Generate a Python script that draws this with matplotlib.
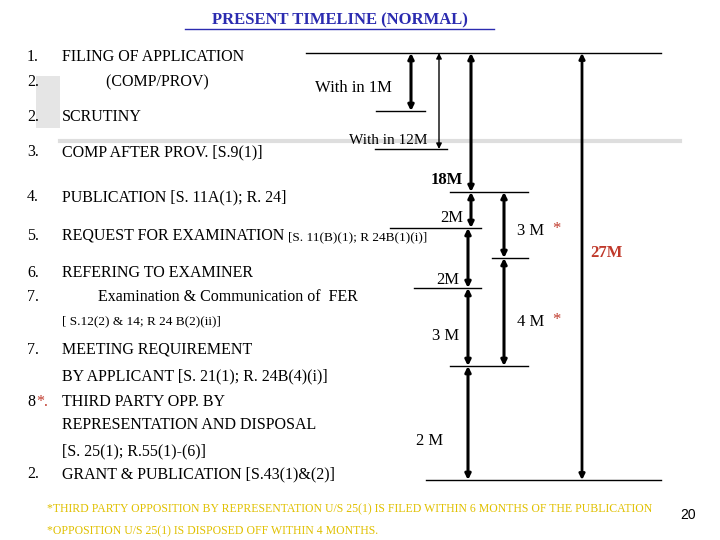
import matplotlib
matplotlib.use("Agg")
import matplotlib.pyplot as plt

# ---------------------------------------------------------------- data (pixel coords of slide)
# arrows: (x, y_top, y_bottom)
arrows = [(411, 53, 111), (439, 53, 149), (471, 53, 192), (471, 192, 228),
          (504, 192, 258), (468, 228, 288), (468, 288, 366), (504, 258, 366),
          (468, 366, 480), (582, 53, 480)]
arrow_lw = [2.2, 1.0, 2.2, 2.2, 2.2, 2.2, 2.2, 2.2, 2.2, 2.0]
# horizontal ticks: (x0, x1, y)
hlines = [(306, 661, 53), (376, 425, 111), (375, 447, 149), (450, 528, 192),
          (390, 481, 228), (492, 528, 258), (414, 481, 288), (450, 528, 366),
          (426, 661, 480)]

items = [("1.", "FILING OF APPLICATION", 57),
         ("2.", "           (COMP/PROV)", 82),
         ("2.", "SCRUTINY", 117),
         ("3.", "COMP AFTER PROV. [S.9(1)]", 152),
         ("4.", "PUBLICATION [S. 11A(1); R. 24]", 197),
         ("6.", "REFERING TO EXAMINER", 273),
         ("7.", "MEETING REQUIREMENT", 350),
         ("2.", "GRANT & PUBLICATION [S.43(1)&(2)]", 474)]

fig = plt.figure(figsize=(7.2, 5.4), dpi=100)
ax = fig.add_axes([0, 0, 1, 1])
ax.set_xlim(0, 720); ax.set_ylim(540, 0); ax.axis("off")
serif = "Liberation Serif"

# slide ornaments
ax.add_patch(plt.Rectangle((36, 76), 24, 52, color="#cccccc", alpha=0.5, lw=0))
ax.plot([60, 680], [141, 141], color="#c8c8c8", lw=3, alpha=0.6)

ax.text(340, 20, "PRESENT TIMELINE (NORMAL)", ha="center", va="center",
        fontsize=12, family=serif, color="#2b2bb0", fontweight="bold")
ax.plot([185, 494], [29, 29], color="#2b2bb0", lw=1)

for x0, x1, y in hlines:
    ax.plot([x0, x1], [y, y], color="black", lw=1)
for (x, y0, y1), lw in zip(arrows, arrow_lw):
    ax.annotate("", xy=(x, y1), xytext=(x, y0),
                arrowprops=dict(arrowstyle="<|-|>", lw=lw, color="black",
                                mutation_scale=8, shrinkA=0, shrinkB=0))

fs = 11.5
for num, txt, y in items:
    ax.text(27, y, num, fontsize=fs, family=serif, va="center")
    ax.text(62, y, txt, fontsize=fs, family=serif, va="center")
ax.text(27, 236, "5.", fontsize=fs, family=serif, va="center")
ax.text(62, 236, "REQUEST FOR EXAMINATION ", fontsize=fs, family=serif, va="center")
ax.text(288, 237, "[S. 11(B)(1); R 24B(1)(i)]", fontsize=9.5, family=serif, va="center")
ax.text(27, 297, "7.", fontsize=fs, family=serif, va="center")
ax.text(98, 297, "Examination & Communication of  FER", fontsize=fs, family=serif, va="center")
ax.text(62, 321, "[ S.12(2) & 14; R 24 B(2)(ii)]", fontsize=9.5, family=serif, va="center")
ax.text(62, 376, "BY APPLICANT [S. 21(1); R. 24B(4)(i)]", fontsize=fs, family=serif, va="center")
ax.text(27, 402, "8", fontsize=fs, family=serif, va="center")
ax.text(36, 402, "*.", fontsize=fs, family=serif, va="center", color="#c0392b")
ax.text(62, 402, "THIRD PARTY OPP. BY", fontsize=fs, family=serif, va="center")
ax.text(62, 425, "REPRESENTATION AND DISPOSAL", fontsize=fs, family=serif, va="center")
ax.text(62, 451, "[S. 25(1); R.55(1)-(6)]", fontsize=fs, family=serif, va="center")

lab = dict(family=serif, va="center")
ax.text(315, 88, "With in 1M", fontsize=12, **lab)
ax.text(349, 141, "With in 12M", fontsize=11, **lab)
ax.text(463, 180, "18M", fontsize=12, fontweight="bold", ha="right", **lab)
ax.text(463, 218, "2M", fontsize=12, ha="right", **lab)
ax.text(517, 231, "3 M", fontsize=12, **lab)
ax.text(552, 229, "*", fontsize=12, color="#c0392b", **lab)
ax.text(590, 253, "27M", fontsize=12, fontweight="bold", color="#c0392b", **lab)
ax.text(459, 280, "2M", fontsize=12, ha="right", **lab)
ax.text(517, 322, "4 M", fontsize=12, **lab)
ax.text(552, 320, "*", fontsize=12, color="#c0392b", **lab)
ax.text(432, 336, "3 M", fontsize=12, **lab)
ax.text(416, 441, "2 M", fontsize=12, **lab)

ax.text(47, 509, "*THIRD PARTY OPPOSITION BY REPRESENTATION U/S 25(1) IS FILED WITHIN 6 MONTHS OF THE PUBLICATION",
        fontsize=8.5, color="#e0c000", **lab)
ax.text(47, 531, "*OPPOSITION U/S 25(1) IS DISPOSED OFF WITHIN 4 MONTHS.", fontsize=8.5, color="#e0c000", **lab)
ax.text(680, 515, "20", fontsize=10, family="Liberation Sans", va="center")

fig.savefig("out.png", dpi=100)
